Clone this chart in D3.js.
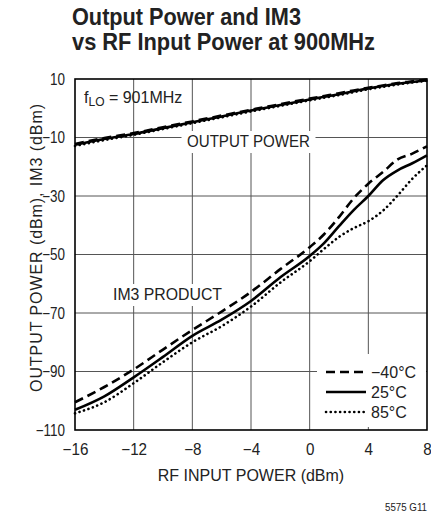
<!DOCTYPE html>
<html>
<head>
<meta charset="utf-8">
<script src="https://cdn.jsdelivr.net/npm/d3@7"></script>
<style>
  body { margin: 0; background: #fff; }
  svg { display: block; }
  text { font-family: "Liberation Sans", Arial, Helvetica, sans-serif; fill: #222; }
</style>
</head>
<body>
<svg id="chart" width="431" height="514"></svg>
<script>
// ---------- data ----------
const inputPower = [-16, -14, -12, -10, -8, -6, -4, -2, 0, 1, 2, 3, 4, 5, 6, 7, 8];

const outM40 = [-12.2, -10.2, -8.5, -6.5, -4.5, -2.5, -0.5, 1.4, 3.3, 4.2, 5.1, 6.1, 7.0, 7.8, 8.6, 9.2, 9.8];
const out25  = [-12.5, -10.5, -8.8, -6.8, -4.8, -2.8, -0.8, 1.1, 3.0, 3.9, 4.8, 5.8, 6.8, 7.6, 8.4, 9.0, 9.6];
const out85  = [-12.9, -10.9, -9.1, -7.1, -5.1, -3.1, -1.1, 0.8, 2.7, 3.6, 4.5, 5.5, 6.5, 7.3, 8.1, 8.8, 9.4];

const im3M40 = [-100.5, -95.3, -89.3, -82.5, -75.8, -69.5, -62.8, -55.0, -47.5, -43.0, -37.2, -30.8, -25.8, -21.8, -17.5, -15.5, -13.0];
const im325  = [-103.1, -98.5, -92.0, -85.0, -77.8, -72.3, -65.9, -57.8, -50.5, -46.0, -40.3, -34.8, -30.0, -24.6, -21.2, -18.8, -16.1];
const im385  = [-104.3, -100.5, -94.0, -86.8, -80.0, -74.5, -67.8, -59.6, -52.3, -48.0, -44.0, -41.0, -38.6, -35.0, -29.8, -24.1, -19.5];

const xTicks = [-16, -12, -8, -4, 0, 4, 8];
const yTicks = [10, -10, -30, -50, -70, -90, -110];

const legendLabels = ["\u221240\u00B0C", "25\u00B0C", "85\u00B0C"];
const titleLines = ["Output Power and IM3", "vs RF Input Power at 900MHz"];

// ---------- layout ----------
const svg = d3.select("#chart");
const L = 75, R = 427, T = 79, B = 430;

const x = d3.scaleLinear().domain([-16, 8]).range([L, R]);
const y = d3.scaleLinear().domain([-110, 10]).range([B, T]);

const fmt = d => d < 0 ? "\u2212" + Math.abs(d) : String(d);

// condense a text horizontally (mimic a condensed face)
function condense(sel, k) {
  sel.each(function () {
    const w = this.getComputedTextLength();
    d3.select(this).attr("textLength", w * k).attr("lengthAdjust", "spacingAndGlyphs");
  });
}

// title
svg.append("text").attr("x", 72).attr("y", 25)
  .attr("font-size", 23).attr("font-weight", "bold")
  .attr("textLength", 229).attr("lengthAdjust", "spacingAndGlyphs")
  .text(titleLines[0]);
svg.append("text").attr("x", 72).attr("y", 50)
  .attr("font-size", 23).attr("font-weight", "bold")
  .attr("textLength", 303).attr("lengthAdjust", "spacingAndGlyphs")
  .text(titleLines[1]);

// grid
const grid = svg.append("g").attr("stroke", "#555").attr("stroke-width", 1);
xTicks.slice(1, -1).forEach(t => {
  grid.append("line").attr("x1", x(t)).attr("x2", x(t)).attr("y1", T).attr("y2", B);
});
yTicks.slice(1, -1).forEach(t => {
  grid.append("line").attr("x1", L).attr("x2", R).attr("y1", y(t)).attr("y2", y(t));
});

// axes labels via d3 axes (no domain / tick lines)
const xAxis = svg.append("g").attr("transform", `translate(0,${B})`)
  .call(d3.axisBottom(x).tickValues(xTicks).tickFormat(fmt).tickSize(0).tickPadding(14));
xAxis.select(".domain").remove();
xAxis.selectAll("text").attr("font-size", 16).attr("font-family", null).attr("fill", "#222");
condense(xAxis.selectAll("text"), 0.95);

const yAxis = svg.append("g").attr("transform", `translate(${L},0)`)
  .call(d3.axisLeft(y).tickValues(yTicks).tickFormat(fmt).tickSize(0).tickPadding(10));
yAxis.select(".domain").remove();
yAxis.selectAll("text").attr("font-size", 16).attr("font-family", null).attr("fill", "#222");
condense(yAxis.selectAll("text"), 0.84);

// axis titles
svg.append("text").attr("x", 251).attr("y", 480.5)
  .attr("text-anchor", "middle").attr("font-size", 16)
  .text("RF INPUT POWER (dBm)");
svg.append("text")
  .attr("transform", `translate(41.5,248) rotate(-90)`)
  .attr("text-anchor", "middle").attr("font-size", 16)
  .attr("textLength", 288).attr("lengthAdjust", "spacing")
  .text("OUTPUT POWER (dBm), IM3 (dBm)");

// annotation boxes
function label(txt, cx, by, w, tl) {
  svg.append("rect").attr("x", cx - w / 2).attr("y", by - 16).attr("width", w).attr("height", 22).attr("fill", "#fff");
  svg.append("text").attr("x", cx).attr("y", by).attr("text-anchor", "middle").attr("font-size", 16)
    .attr("textLength", tl).attr("lengthAdjust", "spacingAndGlyphs").text(txt);
}
label("OUTPUT POWER", 248.5, 147, 134, 123);
label("IM3 PRODUCT", 167.5, 300, 114, 109);

// fLO label
const flo = svg.append("text").attr("x", 84).attr("y", 103).attr("font-size", 16);
flo.append("tspan").text("f");
flo.append("tspan").attr("font-size", 12).attr("dy", 3).text("LO");
flo.append("tspan").attr("dy", -3).text(" = 901MHz");

// curves
const styles = [
  { dash: "9,5", cap: "butt", w: 2.6 },
  { dash: null, cap: "butt", w: 2.6 },
  { dash: "0.1,4.6", cap: "round", w: 2.6 }
];
const line = d3.line().x((d, i) => x(inputPower[i])).y(d => y(d)).curve(d3.curveMonotoneX);
const curves = svg.append("g").attr("fill", "none").attr("stroke", "#000");
[[outM40, im3M40], [out25, im325], [out85, im385]].forEach((pair, k) => {
  pair.forEach(series => {
    curves.append("path").attr("d", line(series))
      .attr("stroke-width", styles[k].w)
      .attr("stroke-dasharray", styles[k].dash)
      .attr("stroke-linecap", styles[k].cap);
  });
});

// legend
svg.append("rect").attr("x", 317).attr("y", 354).attr("width", 109).attr("height", 73).attr("fill", "#fff");
legendLabels.forEach((lab, k) => {
  const yy = 372 + k * 20;
  svg.append("line").attr("x1", 326).attr("x2", 366).attr("y1", yy).attr("y2", yy)
    .attr("stroke", "#000").attr("stroke-width", styles[k].w)
    .attr("stroke-dasharray", styles[k].dash).attr("stroke-linecap", styles[k].cap);
  svg.append("text").attr("x", 371).attr("y", yy + 6).attr("font-size", 16).text(lab);
});

// frame
svg.append("rect").attr("x", L).attr("y", T).attr("width", R - L).attr("height", B - T)
  .attr("fill", "none").attr("stroke", "#000").attr("stroke-width", 1.6);

// figure id
svg.append("text").attr("x", 427).attr("y", 511).attr("text-anchor", "end").attr("font-size", 10)
  .attr("textLength", 42).attr("lengthAdjust", "spacingAndGlyphs").text("5575 G11");
</script>
</body>
</html>
